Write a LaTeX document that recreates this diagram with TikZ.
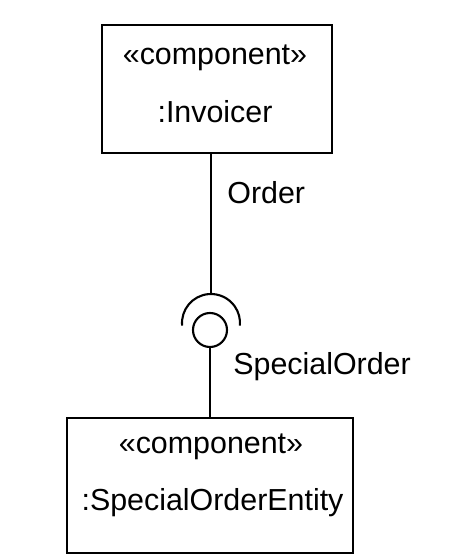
\documentclass[tikz,border=0pt]{standalone}
\usepackage{fontspec}
\setmainfont{Liberation Sans}
\tikzset{
  compbox/.style={draw, line width=1.3pt, rectangle, inner sep=0pt},
  lbl/.style={font=\fontsize{17.3}{20}\selectfont, inner sep=0pt},
  wire/.style={line width=1.2pt}
}
\begin{document}
\begin{tikzpicture}
      \useasboundingbox (0,0) rectangle (9.24,11.1);
      \node[compbox, minimum width=4.6cm, minimum height=2.56cm] (invoicer) at (4.34,9.32) {};
      \node[compbox, minimum width=5.72cm, minimum height=2.70cm] (entity) at (4.20,1.39) {};
      \draw
        (4.30,9.94) node[lbl] (st1){«component»}
        (4.30,8.86) node[lbl] (nm1){:Invoicer}
        (4.22,2.16) node[lbl] (st2){«component»}
        (4.25,1.04) node[lbl] (nm2){:SpecialOrderEntity}
        (4.54,7.24) node[lbl, anchor=west] (req){Order}
        (4.66,3.76) node[lbl, anchor=west] (prov){SpecialOrder};
      \coordinate (socket) at (4.22,4.64);
      \node[draw, wire, circle, minimum size=0.68cm, inner sep=0pt] (ball) at (4.20,4.50) {};
      \begin{scope}[wire]
        \draw (invoicer.south -| socket) -- ([yshift=0.58cm]socket);
        \draw ([shift={(185:0.58)}]socket) arc (185:-5:0.58);
        \draw (ball.south) -- (ball.south |- entity.north);
      \end{scope}
    \end{tikzpicture}
\end{document}
